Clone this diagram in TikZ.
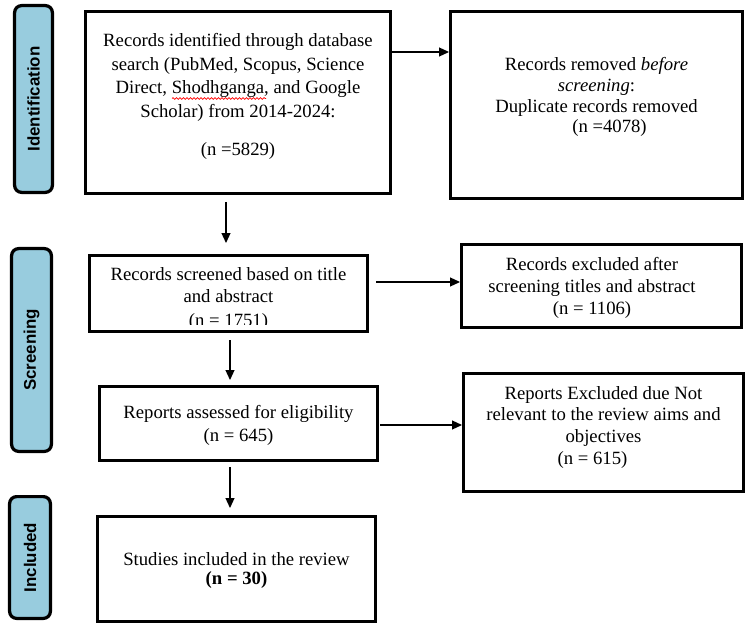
\documentclass[tikz,border=0pt]{standalone}
\usepackage{fontspec}
\setmainfont{Liberation Serif}
\newfontfamily\labfont{Liberation Sans}
\usetikzlibrary{arrows.meta,decorations.pathmorphing}
\definecolor{stagefill}{RGB}{152,204,222}
\begin{document}
\begin{tikzpicture}[x=1bp,y=-1bp,
  box/.style={draw=black, line width=3.2bp, inner sep=0pt},
  stage/.style={draw=black, fill=stagefill, line width=3.2bp, rounded corners=7bp,
    inner sep=0pt, rotate=90, font=\labfont\bfseries\fontsize{16.9bp}{20bp}\selectfont},
  txt/.style={anchor=north, inner sep=0pt, align=center, font=\fontsize{18.7bp}{#1}\selectfont},
  arr/.style={line width=1.2bp, -{Triangle[length=10bp,width=9bp]}}]
\useasboundingbox (0,0) rectangle (748,627);

% stage labels
\node[stage, minimum width=186.8bp, minimum height=37.8bp] (L1) at (33.5,99) {Identification};
\node[stage, minimum width=202.8bp, minimum height=39.8bp] (L2) at (31.5,350) {Screening};
\node[stage, minimum width=121.8bp, minimum height=40.8bp] (L3) at (30,557.5) {Included};

% boxes
\node[box, minimum width=304.8bp, minimum height=181.8bp] (b1) at (238,102.5) {};
\node[box, minimum width=291.8bp, minimum height=186.8bp] (b2) at (596.5,105) {};
\node[box, minimum width=277.8bp, minimum height=75.8bp] (b3) at (228.5,293.5) {};
\node[box, minimum width=279.8bp, minimum height=82.8bp] (b4) at (601.5,286) {};
\node[box, minimum width=277.8bp, minimum height=73.8bp] (b5) at (238.5,423.5) {};
\node[box, minimum width=279.8bp, minimum height=117.8bp] (b6) at (603.5,432.5) {};
\node[box, minimum width=277.8bp, minimum height=104.8bp] (b7) at (236.5,569) {};

% texts
\node[txt=23.4bp] (t1) at (238,30.3) {\strut Records identified through database\\
  search (PubMed, Scopus, Science\\ Direct, Shodhganga, and Google\\
  Scholar) from 2014-2024:\\[14.6bp] (n =5829)};
\draw[red, line width=0.7bp, decorate, decoration={snake, amplitude=0.9bp, segment length=3.5bp}]
  (172,98.5) -- (266,98.5);
\node[txt=20.9bp] (t2) at (596.5,55.4) {\strut Records removed \textit{before}\\
  \textit{screening}:\\ Duplicate records removed\\ \hspace*{26bp}(n =4078)};
\begin{scope}
  \clip (90,256) rectangle (367,324);
  \node[txt=21.6bp] (t3) at (228.5,265.6) {\strut Records screened based on title\\
    and abstract\\[2bp] (n = 1751)};
\end{scope}
\node[txt=22.2bp] (t4) at (592,254.5) {\strut Records excluded after\\
  screening titles and abstract\\ (n = 1106)};
\node[txt=23.4bp] (t5) at (238.5,401.9) {\strut Reports assessed for eligibility\\ (n = 645)};
\node[txt=21.7bp] (t6) at (603.5,383.8) {\strut Reports Excluded due Not\\
  relevant to the review aims and\\ objectives\\ (n = 615)\hspace*{22bp}};
\node[txt=18bp] (t7) at (236.5,552.4) {\strut Studies included in the review\\ \textbf{(n = 30)}};

% connectors
\coordinate (a1) at (392,52);
\draw[arr] (a1) -- (a1 -| b2.west);
\coordinate (d1s) at (226,202);
\coordinate (d1e) at (226,243);
\draw[arr] (d1s) -- (d1e);
\coordinate (a2) at (376,282);
\draw[arr] (a2) -- (a2 -| b4.west);
\coordinate (d2s) at (230,340);
\coordinate (d2e) at (230,380);
\draw[arr] (d2s) -- (d2e);
\coordinate (a3) at (380,425);
\draw[arr] (a3) -- (a3 -| b6.west);
\coordinate (d3s) at (230,467);
\coordinate (d3e) at (230,508);
\draw[arr] (d3s) -- (d3e);
\end{tikzpicture}
\end{document}
